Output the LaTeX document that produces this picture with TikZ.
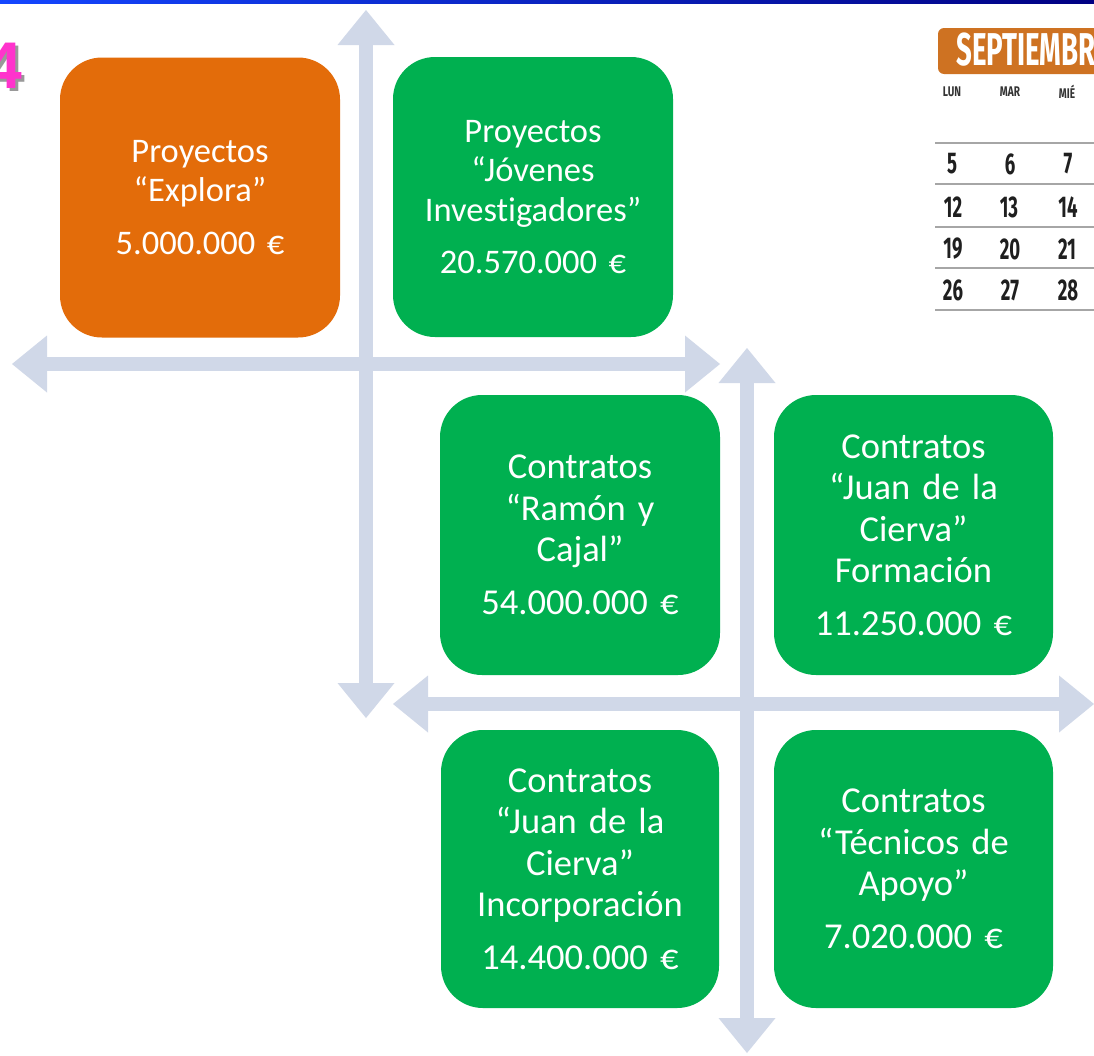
\documentclass[tikz,border=0pt]{standalone}
\usepackage{fontspec}
\usepackage{graphicx}
\setmainfont{Carlito}[Ligatures={NoCommon}]
\newfontfamily\calfont{Fira Sans}
\newfontfamily\digitfont{Liberation Sans}
\usetikzlibrary{arrows.meta}
\definecolor{orangebox}{RGB}{227,108,10}
\definecolor{greenbox}{RGB}{0,176,80}
\definecolor{arrowc}{RGB}{208,216,232}
\definecolor{calorange}{RGB}{206,114,34}
\definecolor{topblueL}{RGB}{20,70,255}
\definecolor{topblueR}{RGB}{0,0,130}
\definecolor{magentafour}{RGB}{255,51,204}
\begin{document}
\begin{tikzpicture}[x=1pt,y=-1pt,
  box/.style={rectangle, rounded corners=42pt, minimum width=280pt, minimum height=280pt,
    text width=272pt, align=center, text=white, inner sep=0pt,
    font=\fontsize{36.5}{41.5}\selectfont},
  smallbox/.style={box, font=\fontsize{34.5}{39.5}\selectfont},
  blockarrow/.style={draw=arrowc, line width=14pt,
    {Triangle[length=35pt,width=57pt,line width=0pt]}-{Triangle[length=35pt,width=57pt,line width=0pt]}},
  calnum/.style={inner sep=0pt, text=black!88, font=\calfont\bfseries\fontsize{30}{30}\selectfont},
  calday/.style={inner sep=0pt, text=black!80, font=\calfont\bfseries\fontsize{14}{14}\selectfont},
  calline/.style={draw=black!35, line width=1.5pt}
]
\useasboundingbox (0,0) rectangle (1094,1055);
\clip (0,0) rectangle (1094,1055);
\fill[white] (0,0) rectangle (1094,1055);
\shade[left color=topblueL, right color=topblueR] (0,0) rectangle (1094,3);

% the "4"
\node[anchor=base east, inner sep=0pt, text=black!40, font=\digitfont\bfseries\fontsize{66}{66}\selectfont] (fourshadow) at (25,91) {4};
\node[anchor=base east, inner sep=0pt, text=magentafour, font=\digitfont\bfseries\fontsize{66}{66}\selectfont] (four) at (22,88) {4};

% arrow end points
\coordinate (a1t) at (366,10);
\coordinate (a1b) at (366,718);
\coordinate (a1l) at (12,364);
\coordinate (a1r) at (720,364);
\coordinate (a2t) at (747,348);
\coordinate (a2b) at (747,1053);
\coordinate (a2l) at (393,704);
\coordinate (a2r) at (1094,704);

\draw[blockarrow] (a1t) -- (a1b);
\draw[blockarrow] (a1l) -- (a1r);
\draw[blockarrow] (a2t) -- (a2b);
\draw[blockarrow] (a2l) -- (a2r);

% boxes
\node[smallbox, fill=orangebox] (explora) at (200,197.5) {Proyectos\\“Explora”\\[13pt]5.000.000 €};
\node[smallbox, fill=greenbox] (jovenes) at (533,197) {Proyectos\\“Jóvenes\\Investigadores”\\[13pt]20.570.000 €};
\node[box, fill=greenbox] (ramon) at (580,535) {Contratos\\“Ramón y\\Cajal”\\[11pt]54.000.000 €};
\node[box, fill=greenbox, minimum width=279pt] (formacion) at (913.5,535) {Contratos\\“Juan de la\\Cierva”\\Formación\\[11pt]11.250.000 €};
\node[box, fill=greenbox, minimum width=278pt, minimum height=278pt] (incorp) at (580,869) {Contratos\\“Juan de la\\Cierva”\\Incorporación\\[11pt]14.400.000 €};
\node[box, fill=greenbox, minimum width=279pt, minimum height=278pt] (tecnicos) at (913.5,869) {Contratos\\“Técnicos de\\Apoyo”\\[11pt]7.020.000 €};

% calendar
\fill[calorange, rounded corners=6pt] (938,28) rectangle (1120,74);
\node[anchor=west, inner sep=0pt, text=white, font=\calfont\bfseries\fontsize{46}{46}\selectfont] (month) at (956,50) {\scalebox{0.6}[1]{SEPTIEMBR}};
\node[calday] (lun) at (952,92) {\scalebox{0.72}[1]{LUN}};
\node[calday] (mar) at (1010,92) {\scalebox{0.72}[1]{MAR}};
\node[calday] (mie) at (1067,92) {\scalebox{0.72}[1]{MIÉ}};
\foreach \yy in {143,184,227,268,310} {\draw[calline] (935,\yy) -- (1094,\yy);}
\node[calnum] (d5) at (952,164) {\scalebox{0.62}[1]{5}};
\node[calnum] (d6) at (1010,164) {\scalebox{0.62}[1]{6}};
\node[calnum] (d7) at (1068,164) {\scalebox{0.62}[1]{7}};
\node[calnum] (d12) at (953,207) {\scalebox{0.62}[1]{12}};
\node[calnum] (d13) at (1009,207) {\scalebox{0.62}[1]{13}};
\node[calnum] (d14) at (1068,207) {\scalebox{0.62}[1]{14}};
\node[calnum] (d19) at (953,249) {\scalebox{0.62}[1]{19}};
\node[calnum] (d20) at (1010,249) {\scalebox{0.62}[1]{20}};
\node[calnum] (d21) at (1067,249) {\scalebox{0.62}[1]{21}};
\node[calnum] (d26) at (953,290) {\scalebox{0.62}[1]{26}};
\node[calnum] (d27) at (1010,290) {\scalebox{0.62}[1]{27}};
\node[calnum] (d28) at (1068,290) {\scalebox{0.62}[1]{28}};
\end{tikzpicture}
\end{document}
